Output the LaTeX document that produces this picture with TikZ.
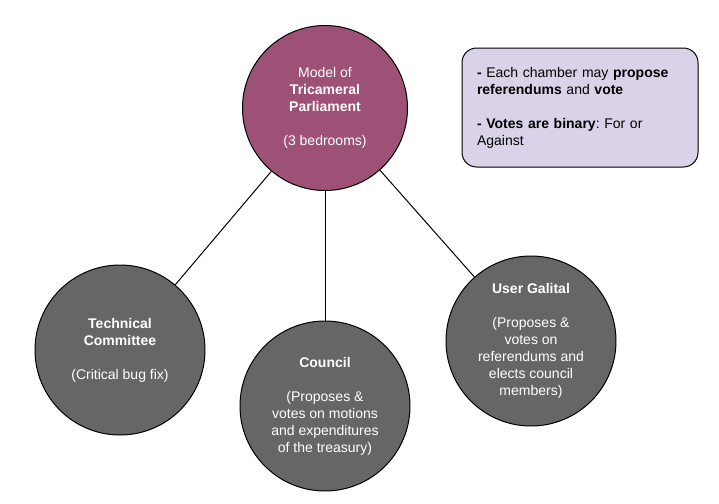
\documentclass[tikz,border=0pt]{standalone}
\usepackage{fontspec}
\setmainfont{Liberation Sans}
\frenchspacing
\definecolor{modelPurple}{HTML}{9E5176}
\definecolor{chamberGrey}{HTML}{666666}
\definecolor{noteLilac}{HTML}{D9D2E9}
\begin{document}
\begin{tikzpicture}[
        x=0.75pt, y=-0.75pt,  % one unit = one pixel, y downwards
        line width=0.75pt,
        every node/.style={font=\fontsize{10.5pt}{12.75pt}\selectfont, align=center},
        model/.style={draw, circle, fill=modelPurple, text=white, minimum size=123.75pt, inner sep=0pt},
        chamber/.style={draw, circle, fill=chamberGrey, text=white, minimum size=127.5pt, inner sep=0pt},
        note/.style={draw, rounded corners=11pt, fill=noteLilac, align=left, text width=154.5pt,
                     minimum width=177pt, minimum height=89.25pt}
    ]
    \useasboundingbox (0,0) rectangle (719,504);

    % The model and its three chambers
    \node[model] (model) at (325,108) {Model of\\ \textbf{Tricameral}\\ \textbf{Parliament}\\[12.75pt] (3 bedrooms)};
    \node[chamber] (tech) at (120,350) {\textbf{Technical}\\ \textbf{Committee}\\[12.75pt] (Critical bug fix)};
    \node[chamber] (council) at (325,406) {\textbf{Council}\\[12.75pt] (Proposes \&\\ votes on motions\\ and expenditures\\ of the treasury)};
    \node[chamber] (users) at (531,341) {\textbf{User Galital}\\[12.75pt] (Proposes \&\\ votes on\\ referendums and\\ elects council\\ members)};

    % Side note
    \node[note] (rules) at (580,107.5) {\textbf{-} Each chamber may \textbf{propose}\\ \textbf{referendums} and \textbf{vote}\\[12.75pt] \textbf{- Votes are binary}: For or\\ Against};

    % Links between the model and the chambers
    \draw (model) -- (tech);
    \draw (model) -- (council);
    \draw (model) -- (users);

\end{tikzpicture}
\end{document}
